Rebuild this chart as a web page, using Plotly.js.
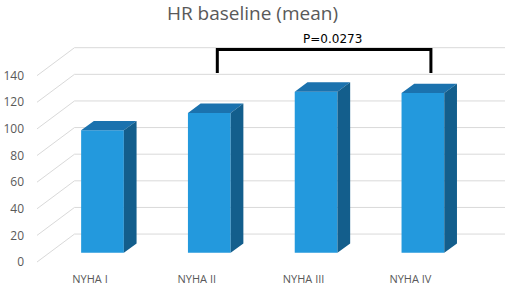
<!DOCTYPE html>
<html>
<head>
<meta charset="utf-8">
<script src="https://cdn.plot.ly/plotly-3.0.1.min.js"></script>
<style>html,body{margin:0;padding:0;background:#fff;}#chart{width:505px;height:287px;}</style>
</head>
<body>
<div id="chart"></div>
<script>
// ---- data ----
const categories = ['NYHA I', 'NYHA II', 'NYHA III', 'NYHA IV'];
const hrMean = [92, 105, 121, 120];
const yTicks = [0, 20, 40, 60, 80, 100, 120, 140];
const chartTitle = 'HR baseline (mean)';
const pValueLabel = 'P=0.0273';
const comparedGroups = ['NYHA II', 'NYHA IV'];

// ---- style / geometry (3D look) ----
const BAR_W = 0.4;
const DEPTH_X = 0.119, DEPTH_Y = 7.0;      // bar depth
const FRONT_DX = -0.117, FRONT_DY = -7.0;  // front floor plane relative to bar front
const BACK_DX = 0.234, BACK_DY = 14.0;     // back wall relative to bar front
const X_RANGE = [-0.6414, 3.7687];
const Y_RANGE = [-9.24, 167.3];
const FLOOR_FRONT_LEFT = -0.6133;
const FLOOR_BACK_LEFT = FLOOR_FRONT_LEFT + (BACK_DX - FRONT_DX);
const GRID = '#d9d9d9';
const FRONT_C = '#2399dd', TOP_C = '#1b72ae', SIDE_C = '#135e8c';
const TXT = '#595959';
const FONT = 'Open Sans, Liberation Sans, sans-serif';

// back wall gridlines
const gx = [], gy = [];
yTicks.forEach(v => { gx.push(FLOOR_BACK_LEFT, X_RANGE[1], null); gy.push(v + BACK_DY, v + BACK_DY, null); });
// floor-to-wall diagonal lines
const dx = [], dy = [];
yTicks.forEach(v => { dx.push(FLOOR_FRONT_LEFT, FLOOR_BACK_LEFT, null); dy.push(v + FRONT_DY, v + BACK_DY, null); });

// top and side faces
const tx = [], ty = [], sx = [], sy = [];
hrMean.forEach((v, i) => {
  const l = i - BAR_W / 2, r = i + BAR_W / 2;
  tx.push(l, r, r + DEPTH_X, l + DEPTH_X, l, null);
  ty.push(v, v, v + DEPTH_Y, v + DEPTH_Y, v, null);
  sx.push(r, r + DEPTH_X, r + DEPTH_X, r, r, null);
  sy.push(0, DEPTH_Y, v + DEPTH_Y, v, 0, null);
});

// significance bracket
const i1 = categories.indexOf(comparedGroups[0]);
const i2 = categories.indexOf(comparedGroups[1]);
const LEG_OFF = 0.075, LEG_BOTTOM = 135, BRACKET_TOP = 152.7;
const bx = [i1 + LEG_OFF, i1 + LEG_OFF, i2 + LEG_OFF, i2 + LEG_OFF];
const by = [LEG_BOTTOM, BRACKET_TOP, BRACKET_TOP, LEG_BOTTOM];

const traces = [
  {type: 'scatter', mode: 'lines', x: gx, y: gy, line: {color: GRID, width: 1}, hoverinfo: 'skip', showlegend: false},
  {type: 'scatter', mode: 'lines', x: dx, y: dy, line: {color: GRID, width: 1}, hoverinfo: 'skip', showlegend: false},
  {type: 'bar', x: categories.map((c, i) => i), y: hrMean, width: BAR_W, xaxis: 'x2', yaxis: 'y2',
   marker: {color: FRONT_C, line: {width: 0}}, showlegend: false},
  {type: 'scatter', mode: 'lines', x: tx, y: ty, fill: 'toself', fillcolor: TOP_C, line: {width: 0, color: TOP_C},
   xaxis: 'x2', yaxis: 'y2', hoverinfo: 'skip', showlegend: false},
  {type: 'scatter', mode: 'lines', x: sx, y: sy, fill: 'toself', fillcolor: SIDE_C, line: {width: 0, color: SIDE_C},
   xaxis: 'x2', yaxis: 'y2', hoverinfo: 'skip', showlegend: false},
  {type: 'scatter', mode: 'lines', x: bx, y: by, line: {color: '#000', width: 3}, xaxis: 'x2', yaxis: 'y2',
   hoverinfo: 'skip', showlegend: false}
];

const layout = {
  width: 505, height: 287,
  margin: {l: 34, r: 0, t: 30, b: 22, pad: 0},
  paper_bgcolor: '#fff', plot_bgcolor: 'rgba(0,0,0,0)',
  hovermode: false, showlegend: false,
  title: {text: chartTitle, font: {family: FONT, size: 19, color: TXT},
          xref: 'container', x: 0.5, xanchor: 'center', yref: 'container', y: 1 - 13 / 287, yanchor: 'middle'},
  xaxis: {range: X_RANGE, tickvals: categories.map((c, i) => i + FRONT_DX), ticktext: categories,
          showgrid: false, zeroline: false, showline: false, ticks: '', ticklabelstandoff: 6,
          tickfont: {family: FONT, size: 11, color: TXT}, fixedrange: true},
  yaxis: {range: Y_RANGE, tickvals: yTicks.map(v => v + FRONT_DY), ticktext: yTicks.map(String),
          showgrid: false, zeroline: false, showline: false, ticks: '', ticklabelstandoff: 9,
          tickfont: {family: FONT, size: 12, color: TXT}, fixedrange: true},
  xaxis2: {overlaying: 'x', range: X_RANGE, visible: false, fixedrange: true},
  yaxis2: {overlaying: 'y', range: Y_RANGE, visible: false, fixedrange: true},
  annotations: [{
    text: pValueLabel, xref: 'x2', yref: 'y2', x: (bx[0] + bx[2]) / 2, y: BRACKET_TOP,
    xanchor: 'center', yanchor: 'bottom', xshift: 8, yshift: 1, showarrow: false,
    font: {family: 'DejaVu Sans, sans-serif', size: 12, color: '#000'}
  }]
};

Plotly.newPlot('chart', traces, layout, {displayModeBar: false, staticPlot: true});
</script>
</body>
</html>
